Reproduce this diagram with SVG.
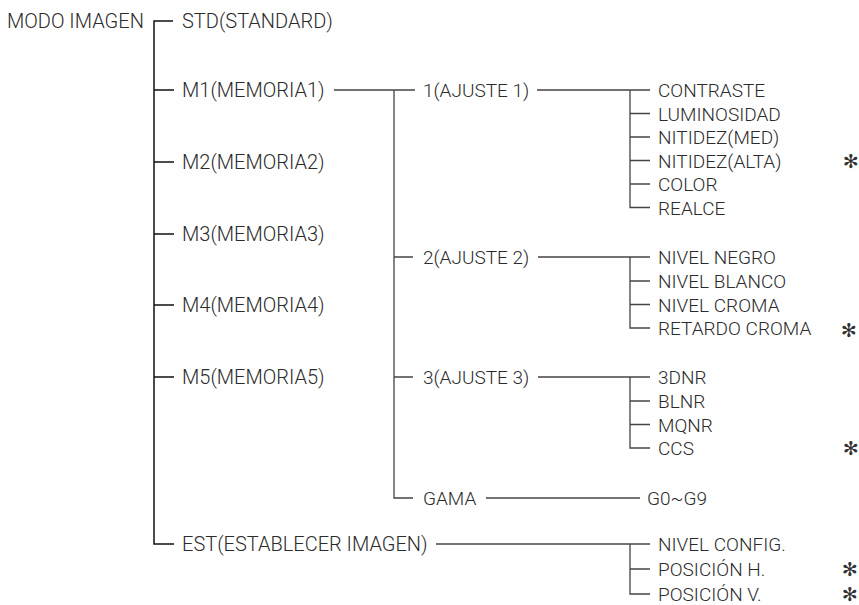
<svg xmlns="http://www.w3.org/2000/svg" width="859" height="605" viewBox="0 0 859 605">
<style>
text{font-family:Roboto,"Liberation Sans",Arial,sans-serif;font-weight:300;fill:#2b2b2b}
.l{font-size:20px}
.m{font-size:19px}
.r{font-size:19px}
.s{font-family:"DejaVu Sans",sans-serif;font-weight:700;font-size:19px;fill:#333;text-anchor:middle}
.k{stroke:#111;stroke-width:1.5;fill:none}
.g{stroke:#444;stroke-width:1.3;fill:none}
</style>
<rect width="859" height="605" fill="#fff"/>
<g id="connectors">
<path class="k" d="M173 21H154V544H174M154 90H174M154 162H174M154 234H174M154 305H174M154 377H174"/>
<path class="g" d="M334 90H415M394 90V498H413M394 257H413M394 377H413"/>
<path class="g" d="M537 90H650M630 90V207.5H650M630 113.5H650M630 137H650M630 160.5H650M630 184H650"/>
<path class="g" d="M538 257H650M630 257V328H650M630 281H650M630 304.5H650"/>
<path class="g" d="M538 377H650M630 377V448H650M630 401H650M630 424.5H650"/>
<path class="g" d="M486 498H640"/>
<path class="g" d="M436 544H650M630 544V594H650M630 569H650"/>
</g>
<g id="modo"><text class="l" x="7" y="28">MODO IMAGEN</text></g>
<g id="std"><text class="l" x="182" y="28">STD(STANDARD)</text></g>
<g id="m1"><text class="l" x="182" y="97">M1(MEMORIA1)</text></g>
<g id="m2"><text class="l" x="182" y="169">M2(MEMORIA2)</text></g>
<g id="m3"><text class="l" x="182" y="241">M3(MEMORIA3)</text></g>
<g id="m4"><text class="l" x="182" y="312">M4(MEMORIA4)</text></g>
<g id="m5"><text class="l" x="182" y="384">M5(MEMORIA5)</text></g>
<g id="est"><text class="l" x="182" y="551">EST(ESTABLECER IMAGEN)</text></g>
<g id="aj1"><text class="m" x="423" y="97">1(AJUSTE 1)</text></g>
<g id="aj2"><text class="m" x="423" y="264">2(AJUSTE 2)</text></g>
<g id="aj3"><text class="m" x="423" y="384">3(AJUSTE 3)</text></g>
<g id="gama"><text class="m" x="423" y="505">GAMA</text></g>
<g id="g0g9"><text class="r" x="647" y="505">G0~G9</text></g>
<g id="b1">
<text class="r" x="658" y="97">CONTRASTE</text>
<text class="r" x="658" y="120.5">LUMINOSIDAD</text>
<text class="r" x="658" y="144">NITIDEZ(MED)</text>
<text class="r" x="658" y="167.5">NITIDEZ(ALTA)</text>
<text class="r" x="658" y="191">COLOR</text>
<text class="r" x="658" y="214.5">REALCE</text>
</g>
<g id="b2">
<text class="r" x="658" y="264">NIVEL NEGRO</text>
<text class="r" x="658" y="288">NIVEL BLANCO</text>
<text class="r" x="658" y="311.5">NIVEL CROMA</text>
<text class="r" x="658" y="335">RETARDO CROMA</text>
</g>
<g id="b3">
<text class="r" x="658" y="384">3DNR</text>
<text class="r" x="658" y="408">BLNR</text>
<text class="r" x="658" y="431.5">MQNR</text>
<text class="r" x="658" y="455">CCS</text>
</g>
<g id="b4">
<text class="r" x="658" y="551">NIVEL CONFIG.</text>
<text class="r" x="658" y="576">POSICIÓN H.</text>
<text class="r" x="658" y="601">POSICIÓN V.</text>
</g>
<g id="stars">
<text class="s" x="851" y="168">✻</text>
<text class="s" x="849" y="337">✻</text>
<text class="s" x="851" y="455">✻</text>
<text class="s" x="850" y="576">✻</text>
<text class="s" x="850" y="601">✻</text>
</g>
</svg>
